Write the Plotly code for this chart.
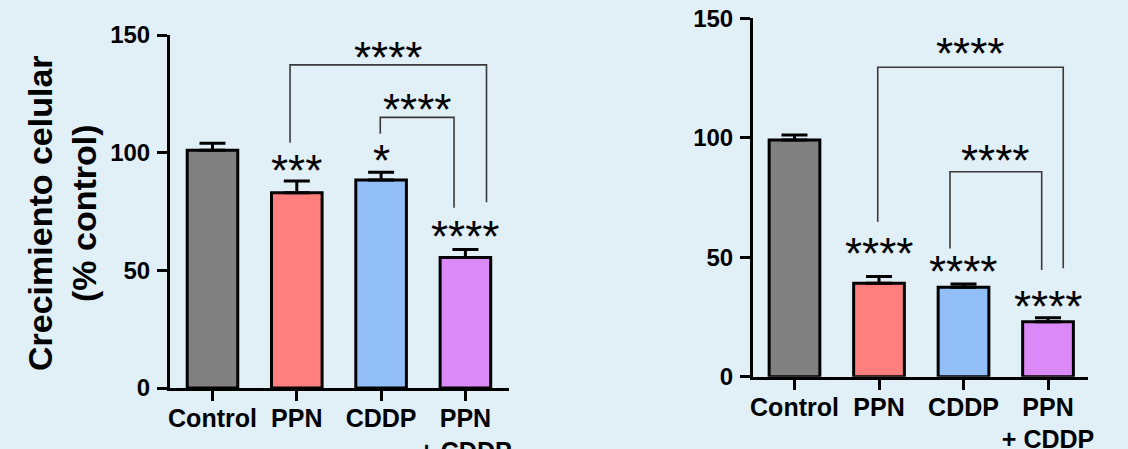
import plotly.graph_objects as go

# ---------------- data ----------------
categories = ["Control", "PPN", "CDDP", "PPN<br>+ CDDP"]
cat_pos = [0, 1, 2, 3]
bar_colors = ["#808080", "#FF7F7F", "#92BFF8", "#DA89F6"]
y_ticks = [0, 50, 100, 150]

left_mean = [101.0, 83.0, 88.4, 55.5]
left_sem = [3.0, 5.0, 3.3, 3.4]
left_stars = ["", "***", "*", "****"]
left_star_y = [None, 95.5, 99.7, 67.4]
# comparisons: (x_left, x_right, y_top, y_left_end, y_right_end, label, label_y)
left_comparisons = [
    (0.92, 3.25, 137.3, 104.2, 78.9, "****", 143.3),
    (1.99, 2.865, 115.0, 108.0, 76.6, "****", 121.2),
]

right_mean = [99.1, 39.1, 37.4, 23.0]
right_sem = [2.1, 2.8, 1.4, 1.7]
right_stars = ["", "****", "****", "****"]
right_star_y = [None, 54.7, 46.8, 32.4]
right_comparisons = [
    (0.985, 3.18, 129.5, 64.9, 45.4, "****", 138.4),
    (1.84, 2.925, 85.8, 53.7, 44.7, "****", 93.5),
]

y_title = "Crecimiento celular<br>(% control)"

# ---------------- style ----------------
W, H = 1128, 449
BG = "#E1EFF7"
FONT = "Liberation Sans"
STAR_SIZE = 44
STAR_SHIFT = -7

fig = go.Figure()

panels = [
    ("x", "y", left_mean, left_sem, left_stars, left_star_y, left_comparisons),
    ("x2", "y2", right_mean, right_sem, right_stars, right_star_y, right_comparisons),
]

shapes = []
annotations = []
star_font = dict(family=FONT, size=STAR_SIZE, color="black")
for xa, ya, mean, sem, stars, star_y, comps in panels:
    fig.add_trace(go.Bar(
        x=cat_pos, y=mean, xaxis=xa, yaxis=ya, width=0.6,
        marker=dict(color=bar_colors, line=dict(color="black", width=3)),
        error_y=dict(type="data", symmetric=False, array=sem,
                     arrayminus=[0] * len(sem), color="black",
                     thickness=3, width=13),
        showlegend=False, hoverinfo="skip",
    ))
    for xi, s, sy in zip(cat_pos, stars, star_y):
        if s:
            annotations.append(dict(
                x=xi, y=sy, xref=xa, yref=ya, text=s, showarrow=False,
                xanchor="center", yanchor="middle", yshift=STAR_SHIFT,
                font=star_font))
    for x0, x1, yt, yl, yr, lab, ly in comps:
        shapes.append(dict(
            type="path", xref=xa, yref=ya,
            path=f"M {x0} {yl} L {x0} {yt} L {x1} {yt} L {x1} {yr}",
            line=dict(color="#3a3a3a", width=1.6)))
        annotations.append(dict(
            x=(x0 + x1) / 2, y=ly, xref=xa, yref=ya, text=lab, showarrow=False,
            xanchor="center", yanchor="middle", yshift=STAR_SHIFT,
            font=star_font))

annotations.append(dict(
    x=62 / W, y=1 - 213 / H, xref="paper", yref="paper", text=y_title,
    showarrow=False, textangle=-90, xanchor="center", yanchor="middle",
    font=dict(family=FONT, size=34, color="black", weight="bold")))

axis_common = dict(showline=True, linewidth=3, linecolor="black",
                   ticks="outside", ticklen=10, tickwidth=3, tickcolor="black",
                   showgrid=False, zeroline=False, fixedrange=True,
                   automargin=False)
xfont = dict(family=FONT, size=25, color="black", weight="bold")
yfont = dict(family=FONT, size=24, color="black", weight="bold")

fig.update_layout(
    template="none",
    width=W, height=H,
    margin=dict(l=0, r=0, t=0, b=0, pad=0),
    paper_bgcolor=BG, plot_bgcolor=BG,
    xaxis=dict(domain=[170 / W, 509 / W], range=[-0.504, 3.517], anchor="y",
               tickvals=cat_pos, ticktext=categories, tickfont=xfont,
               ticklabelstandoff=-4, **axis_common),
    yaxis=dict(domain=[1 - 388 / H, 1 - 35 / H], range=[0, 150], anchor="x",
               tickvals=y_ticks, tickfont=yfont, ticklabelstandoff=2, **axis_common),
    xaxis2=dict(domain=[753 / W, 1088 / W], range=[-0.491, 3.473], anchor="y2",
                tickvals=cat_pos, ticktext=categories, tickfont=xfont,
                ticklabelstandoff=-4, **axis_common),
    yaxis2=dict(domain=[1 - 376.7 / H, 1 - 18.3 / H], range=[0, 150], anchor="x2",
                tickvals=y_ticks, tickfont=yfont, ticklabelstandoff=2, **axis_common),
    shapes=shapes,
    annotations=annotations,
)

fig.write_html("out.html", config={"displayModeBar": False},
               post_script="document.body.style.margin='0';document.body.style.overflow='hidden';")
